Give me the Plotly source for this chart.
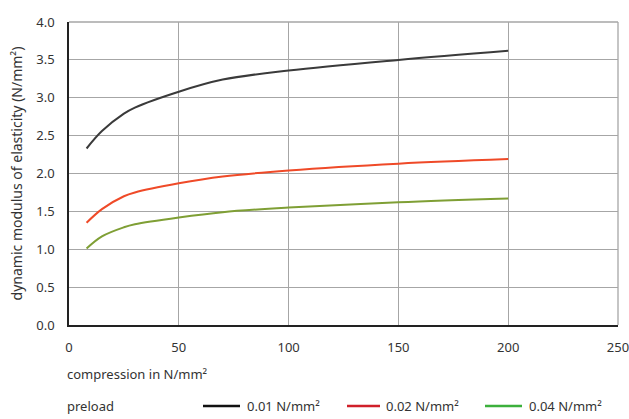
import plotly.graph_objects as go

compression = [8, 15, 25, 30, 50, 70, 100, 150, 200]
e_001 = [2.33, 2.56, 2.79, 2.87, 3.08, 3.24, 3.36, 3.50, 3.62]
e_002 = [1.35, 1.53, 1.70, 1.75, 1.87, 1.96, 2.04, 2.13, 2.19]
e_004 = [1.01, 1.17, 1.29, 1.33, 1.42, 1.49, 1.55, 1.62, 1.67]

x_ticks = [0, 50, 100, 150, 200, 250]
y_ticks = [0.0, 0.5, 1.0, 1.5, 2.0, 2.5, 3.0, 3.5, 4.0]

series = [
    ("0.01 N/mm²", e_001, "#3a3a3a", "#111111"),
    ("0.02 N/mm²", e_002, "#ef4a28", "#d0202a"),
    ("0.04 N/mm²", e_004, "#7f9f35", "#3cb03c"),
]

FONT = "Noto Sans"
fig = go.Figure()
for name, ys, col, _ in series:
    fig.add_trace(go.Scatter(x=compression, y=ys, mode="lines", name=name,
                             line=dict(color=col, width=2, shape="spline", smoothing=1.0),
                             showlegend=False))

fig.update_layout(
    width=629, height=419,
    margin=dict(l=69, r=11, t=22, b=94),
    paper_bgcolor="white", plot_bgcolor="white",
    font=dict(family=FONT, size=13, color="#333333"),
    xaxis=dict(range=[0, 250], tickvals=x_ticks, ticktext=[str(v) for v in x_ticks],
               showgrid=True, gridcolor="#a6a6a6", gridwidth=1.3, automargin=False,
               zeroline=False, showline=True, linecolor="#222222", linewidth=1.5,
               ticks="", ticklabelstandoff=10, ticklabeloverflow="allow",
               tickfont=dict(size=13, color="#333333")),
    yaxis=dict(range=[0, 4], tickvals=y_ticks, ticktext=[f"{v:.1f}" for v in y_ticks],
               showgrid=True, gridcolor="#a6a6a6", automargin=False,
               gridwidth=1.3, zeroline=False, showline=True, linecolor="#222222", linewidth=1.5,
               ticks="", ticklabelstandoff=10, ticklabeloverflow="allow",
               tickfont=dict(size=13, color="#333333"),
               title=dict(text="dynamic modulus of elasticity (N/mm²)", standoff=10,
                          font=dict(size=14, color="#333333"))),
)

# top and right border in grid colour
fig.add_shape(type="line", xref="paper", yref="paper", x0=0, x1=1, y0=1, y1=1,
              line=dict(color="#a6a6a6", width=1.3))
fig.add_shape(type="line", xref="paper", yref="paper", x0=1, x1=1, y0=0, y1=1,
              line=dict(color="#a6a6a6", width=1.3))

def px(x):
    return (x - 69) / (629 - 69 - 11)
def py(y):
    return (419 - 94 - y) / (419 - 22 - 94)

fig.add_annotation(text="compression in N/mm²", xref="paper", yref="paper",
                   x=px(65), y=py(374), xanchor="left", yanchor="middle", showarrow=False,
                   font=dict(size=13, color="#333333"))
fig.add_annotation(text="preload", xref="paper", yref="paper",
                   x=px(65), y=py(406), xanchor="left", yanchor="middle", showarrow=False,
                   font=dict(size=13, color="#333333"))

leg_pos = [(203, 240, 245), (347, 380, 384), (485, 522, 527)]
for (name, _, _, lcol), (a, b, t) in zip(series, leg_pos):
    fig.add_shape(type="line", xref="paper", yref="paper", x0=px(a), x1=px(b),
                  y0=py(406), y1=py(406), line=dict(color=lcol, width=2.5))
    fig.add_annotation(text=name, xref="paper", yref="paper", x=px(t), y=py(406),
                       xanchor="left", yanchor="middle", showarrow=False,
                       font=dict(size=13, color="#333333"))

fig.write_html("out.html")
